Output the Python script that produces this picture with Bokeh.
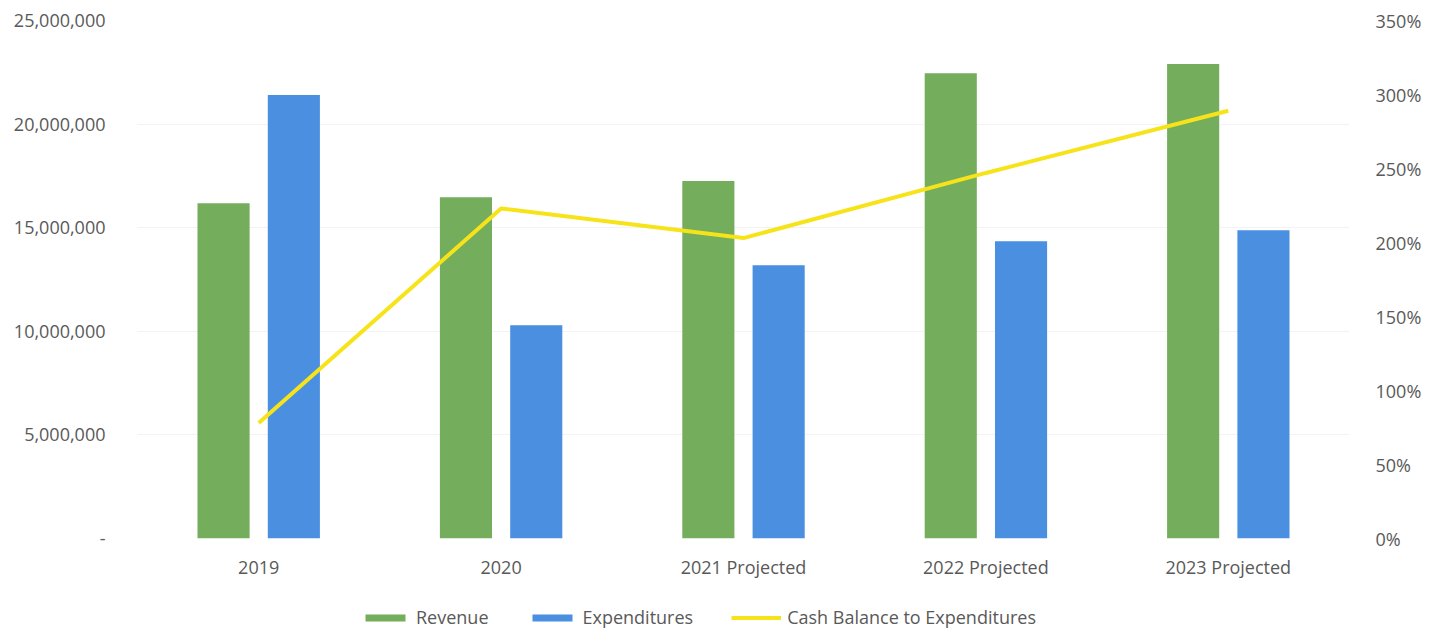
from bokeh.plotting import figure
from bokeh.layouts import column
from bokeh.models import (ColumnDataSource, Range1d, LinearAxis, FixedTicker,
                          NumeralTickFormatter, Legend, LegendItem, FactorRange)
from bokeh.transform import dodge
from bokeh.embed import file_html
from bokeh.resources import INLINE

categories = ["2019", "2020", "2021 Projected", "2022 Projected", "2023 Projected"]
revenue = [16180000, 16470000, 17250000, 22460000, 22900000]
expenditures = [21400000, 10290000, 13190000, 14350000, 14880000]
cash_ratio = [0.78, 2.23, 2.03, 2.47, 2.89]

left_ticks = [0, 5000000, 10000000, 15000000, 20000000, 25000000]
right_ticks = [0, 0.5, 1.0, 1.5, 2.0, 2.5, 3.0, 3.5]
series_names = ["Revenue", "Expenditures", "Cash Balance to Expenditures"]

src = ColumnDataSource(dict(cat=categories, rev=revenue, exp=expenditures, ratio=cash_ratio))

FONT = "Open Sans"
FS = "18px"
TXT = "#595959"
GREEN = "#74ad5c"
BLUE = "#4a8fe0"
YELLOW = "#f7e31a"

p = figure(x_range=FactorRange(*categories, range_padding=0),
           width=1436, height=581,
           y_range=Range1d(0, 25000000), output_backend="svg", toolbar_location=None,
           min_border_left=137, min_border_right=87, min_border_top=20, min_border_bottom=43)
p.extra_y_ranges = {"pct": Range1d(0, 3.5)}
p.outline_line_color = None
p.background_fill_color = "white"

p.vbar(x=dodge("cat", -0.145, range=p.x_range), top="rev", width=0.215, source=src,
       fill_color=GREEN, line_color=None)
p.vbar(x=dodge("cat", 0.145, range=p.x_range), top="exp", width=0.215, source=src,
       fill_color=BLUE, line_color=None)
p.line(x="cat", y="ratio", source=src, y_range_name="pct",
       line_color=YELLOW, line_width=4)

# left axis
ya = p.yaxis[0]
ya.ticker = FixedTicker(ticks=left_ticks)
ya.formatter = NumeralTickFormatter(format="0,0")
ya.major_label_overrides = {0: "-"}
ya.axis_line_color = None
ya.major_tick_line_color = None
ya.minor_tick_line_color = None
ya.major_label_text_font = FONT
ya.major_label_text_font_size = FS
ya.major_label_text_color = TXT
ya.major_label_standoff = 26

# right axis
ra = LinearAxis(y_range_name="pct", ticker=FixedTicker(ticks=right_ticks),
                formatter=NumeralTickFormatter(format="0%"))
ra.axis_line_color = None
ra.major_tick_line_color = None
ra.minor_tick_line_color = None
ra.major_label_text_font = FONT
ra.major_label_text_font_size = FS
ra.major_label_text_color = TXT
ra.major_label_standoff = 20
p.add_layout(ra, "right")

# x axis
xa = p.xaxis[0]
xa.axis_line_color = None
xa.major_tick_line_color = None
xa.minor_tick_line_color = None
xa.major_label_text_font = FONT
xa.major_label_text_font_size = FS
xa.major_label_text_color = TXT
xa.major_label_standoff = 10

p.xgrid.grid_line_color = None
p.ygrid.ticker = FixedTicker(ticks=left_ticks)
p.ygrid.grid_line_color = "#f3f3f3"

# legend strip (separate figure below the chart; proxy glyphs lie outside its view)
lg = figure(width=1436, height=48, x_range=Range1d(0, 1), y_range=Range1d(0, 1),
            output_backend="svg", toolbar_location=None,
            x_axis_location=None, y_axis_location=None, min_border=0)
lg.outline_line_color = None
lg.xgrid.grid_line_color = None
lg.ygrid.grid_line_color = None
proxy = ColumnDataSource(dict(x=[-10, -9], y=[-10, -9]))
g1 = lg.vbar(x="x", top="y", width=0.1, source=proxy, fill_color=GREEN, line_color=None)
g2 = lg.vbar(x="x", top="y", width=0.1, source=proxy, fill_color=BLUE, line_color=None)
g3 = lg.line(x="x", y="y", source=proxy, line_color=YELLOW, line_width=4)

legend = Legend(items=[LegendItem(label=series_names[0], renderers=[g1]),
                       LegendItem(label=series_names[1], renderers=[g2]),
                       LegendItem(label=series_names[2], renderers=[g3])],
                orientation="horizontal", location=(223, 0),
                label_text_font=FONT, label_text_font_size=FS, label_text_color=TXT,
                glyph_width=50, glyph_height=9, spacing=38, border_line_color=None,
                background_fill_alpha=0, margin=0, padding=0, label_standoff=6)
lg.add_layout(legend, "center")

layout = column(p, lg, spacing=0)
open("out.html", "w").write(file_html(layout, INLINE))
